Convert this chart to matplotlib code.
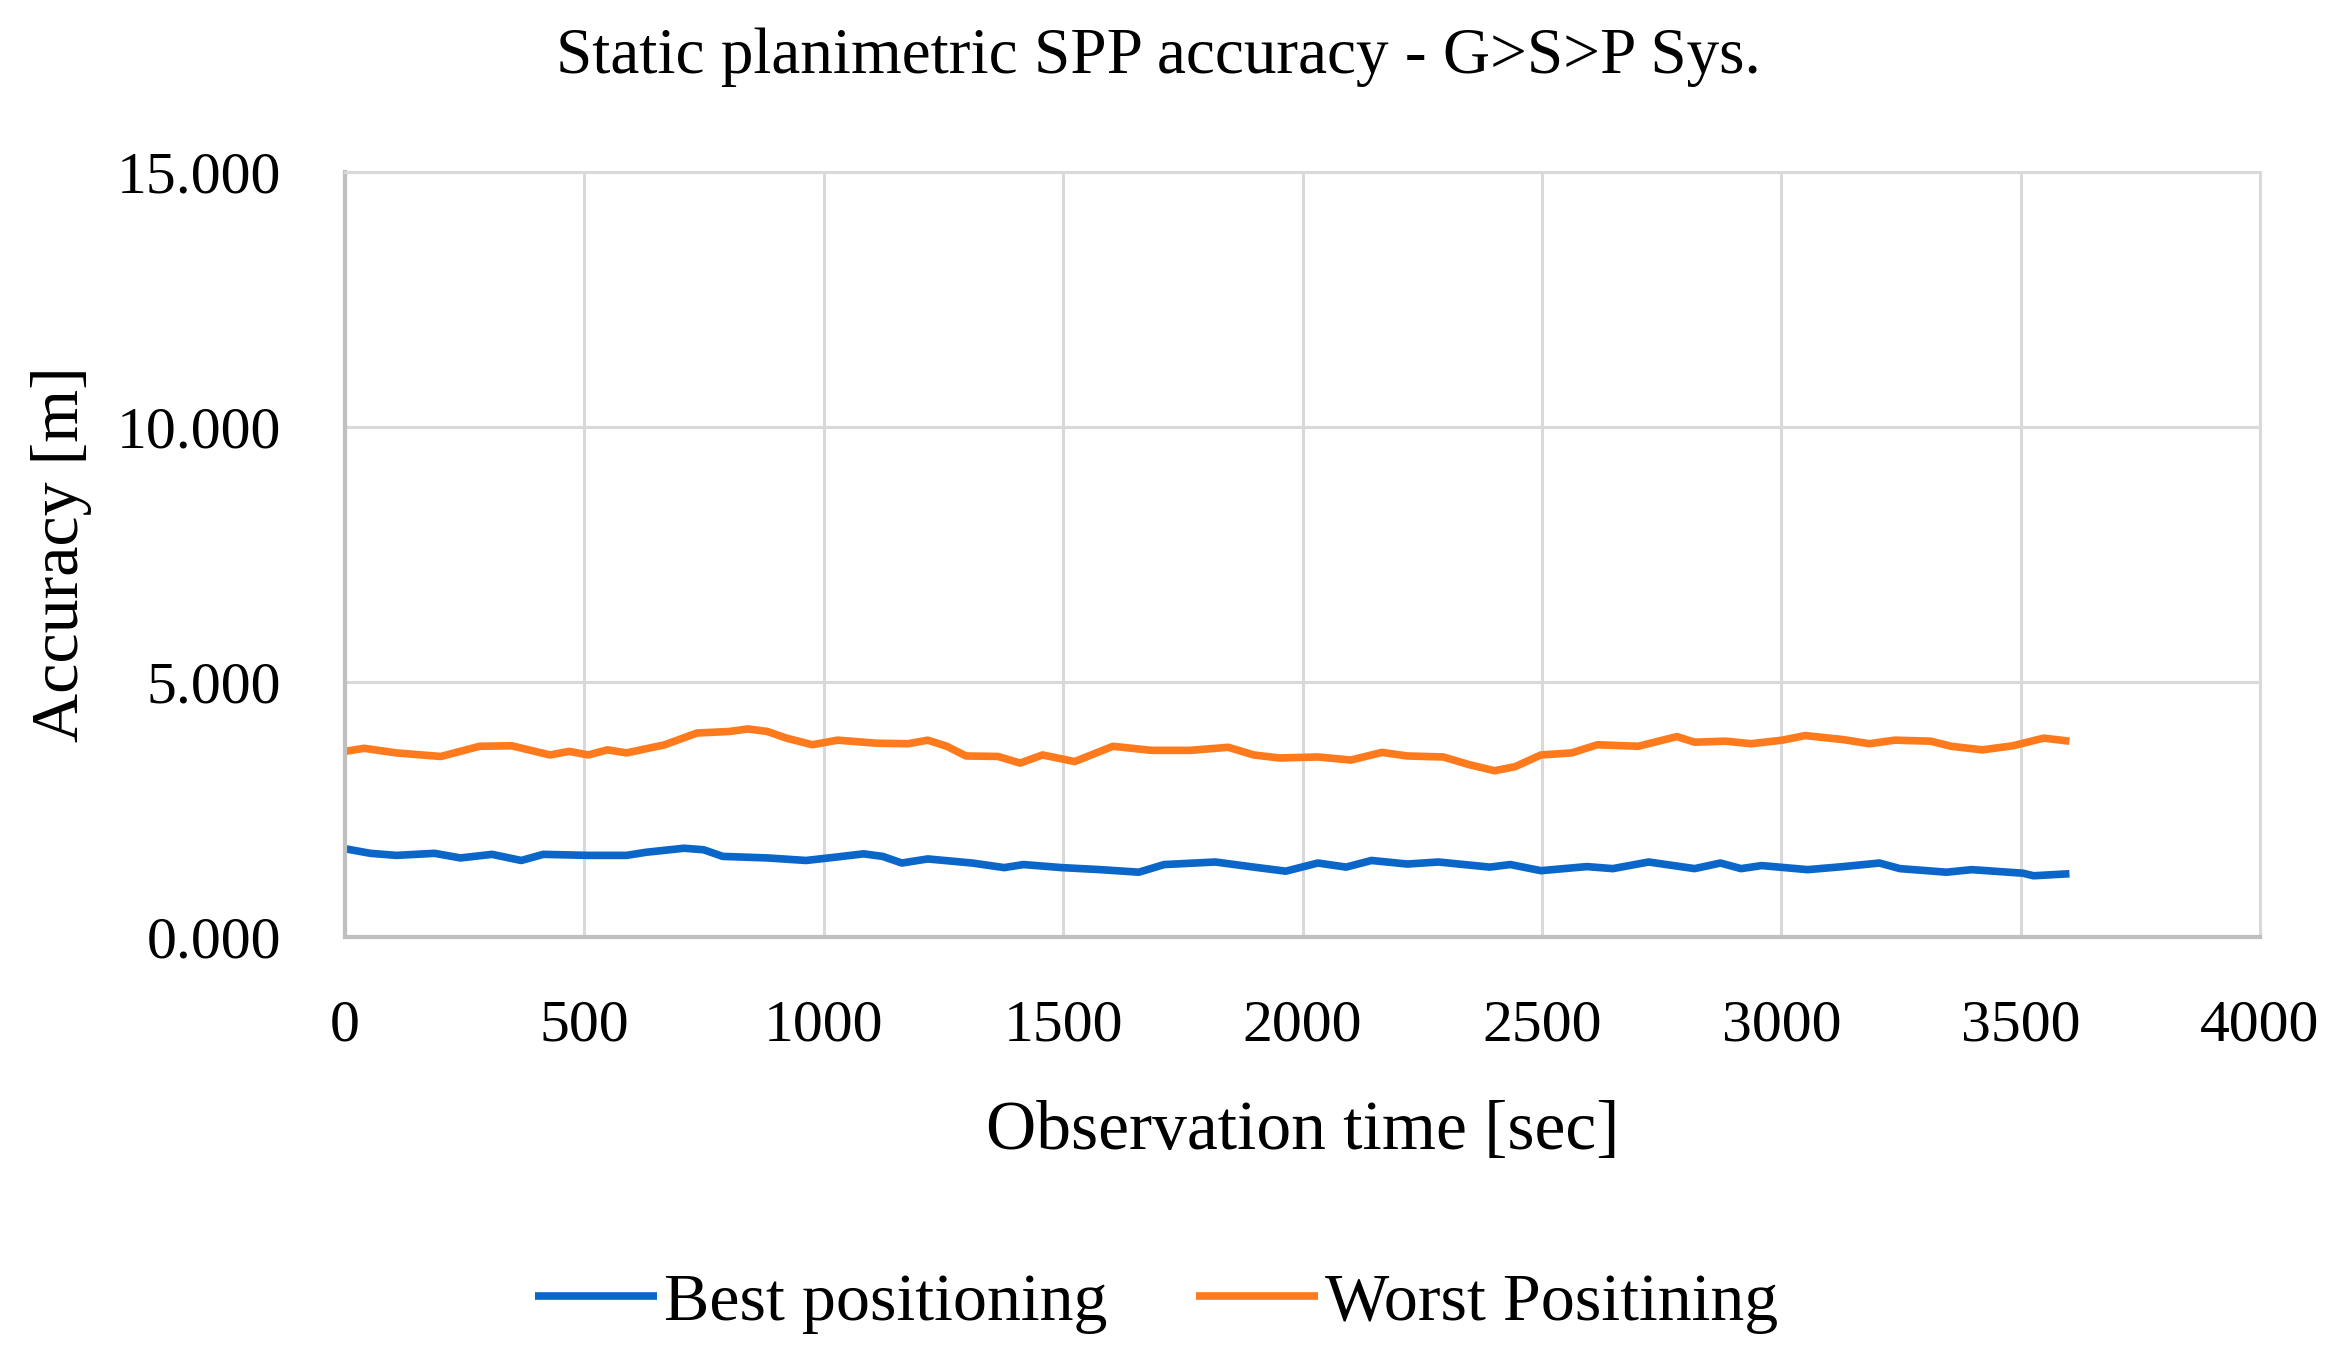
import matplotlib
matplotlib.use("Agg")
import matplotlib.pyplot as plt
from matplotlib.ticker import FormatStrFormatter

# ---- data ----
best_t = [0, 53, 107, 187, 241, 307, 368, 414, 508, 588, 628, 708, 749, 789, 882, 963,
          1029, 1083, 1123, 1163, 1217, 1310, 1377, 1417, 1497, 1578, 1658, 1711, 1818,
          1898, 1965, 2032, 2091, 2144, 2219, 2284, 2391, 2434, 2498, 2594, 2648, 2723,
          2819, 2873, 2916, 2959, 3055, 3130, 3205, 3248, 3345, 3398, 3505, 3527, 3602]
best_v = [1.73, 1.64, 1.60, 1.64, 1.55, 1.62, 1.50, 1.62, 1.60, 1.60, 1.66, 1.74, 1.71,
          1.58, 1.55, 1.50, 1.57, 1.63, 1.58, 1.45, 1.53, 1.45, 1.36, 1.42, 1.36, 1.32,
          1.27, 1.42, 1.47, 1.37, 1.29, 1.45, 1.37, 1.50, 1.43, 1.47, 1.37, 1.42, 1.30,
          1.38, 1.34, 1.47, 1.34, 1.45, 1.34, 1.40, 1.32, 1.38, 1.45, 1.34, 1.27, 1.32,
          1.25, 1.20, 1.24]

worst_t = [0, 40, 107, 200, 281, 348, 428, 468, 508, 548, 588, 668, 735, 802, 842, 882,
           922, 976, 1029, 1110, 1176, 1217, 1257, 1297, 1364, 1410, 1457, 1524, 1604,
           1684, 1765, 1845, 1898, 1952, 2032, 2101, 2166, 2219, 2294, 2348, 2401, 2444,
           2498, 2562, 2616, 2701, 2782, 2819, 2884, 2937, 3002, 3050, 3130, 3184, 3237,
           3312, 3355, 3420, 3484, 3548, 3602]
worst_v = [3.64, 3.70, 3.61, 3.54, 3.74, 3.75, 3.57, 3.64, 3.57, 3.67, 3.61, 3.77, 4.00,
           4.03, 4.08, 4.03, 3.90, 3.77, 3.86, 3.80, 3.79, 3.86, 3.74, 3.55, 3.54, 3.41,
           3.57, 3.44, 3.74, 3.66, 3.66, 3.72, 3.57, 3.51, 3.53, 3.47, 3.62, 3.55, 3.53,
           3.38, 3.26, 3.34, 3.57, 3.61, 3.77, 3.74, 3.93, 3.82, 3.84, 3.79, 3.86, 3.95,
           3.87, 3.79, 3.86, 3.84, 3.74, 3.67, 3.75, 3.90, 3.84]

series_labels = ["Best positioning", "Worst Positining"]
x_ticks = [0, 500, 1000, 1500, 2000, 2500, 3000, 3500, 4000]
y_ticks = [0, 5, 10, 15]

title = "Static planimetric SPP accuracy - G>S>P Sys."
x_label = "Observation time [sec]"
y_label = "Accuracy [m]"

# ---- plot ----
plt.rcParams['font.family'] = ['Liberation Serif', 'DejaVu Serif']
fig = plt.figure(figsize=(23.41, 13.67), dpi=100)
ax = fig.add_axes([0.1474, 0.3146, 0.8180, 0.5594])

blue = "#0A66C8"
orange = "#FF7A1C"
ax.plot(best_t, best_v, color=blue, lw=5.5, label=series_labels[0], solid_capstyle='butt')
ax.plot(worst_t, worst_v, color=orange, lw=5.5, label=series_labels[1], solid_capstyle='butt')

ax.set_xlim(0, 4000)
ax.set_ylim(0, 15)
ax.set_xticks(x_ticks)
ax.set_yticks(y_ticks)
ax.yaxis.set_major_formatter(FormatStrFormatter('%.3f'))
ax.grid(True, color="#D9D9D9", lw=2.2)
ax.set_axisbelow(True)
ax.tick_params(length=0, labelsize=43, colors="black")
ax.tick_params(axis='y', pad=46)
ax.tick_params(axis='x', pad=45)
for s in ['top', 'right']:
    ax.spines[s].set_color("#D9D9D9")
    ax.spines[s].set_linewidth(2.2)
for s in ['left', 'bottom']:
    ax.spines[s].set_color("#BFBFBF")
    ax.spines[s].set_linewidth(3)

fig.text(0.4947, 0.958, title, ha='center', va='center', fontsize=47)
ax.set_xlabel(x_label, fontsize=50, labelpad=34)
ax.set_ylabel(y_label, fontsize=49, labelpad=18)

leg = fig.legend(loc='center', bbox_to_anchor=(0.494, 0.047), ncol=2, frameon=False,
                 fontsize=49, handlelength=1.8, handletextpad=0.1, columnspacing=1.3)

fig.savefig("out.png", dpi=100)
